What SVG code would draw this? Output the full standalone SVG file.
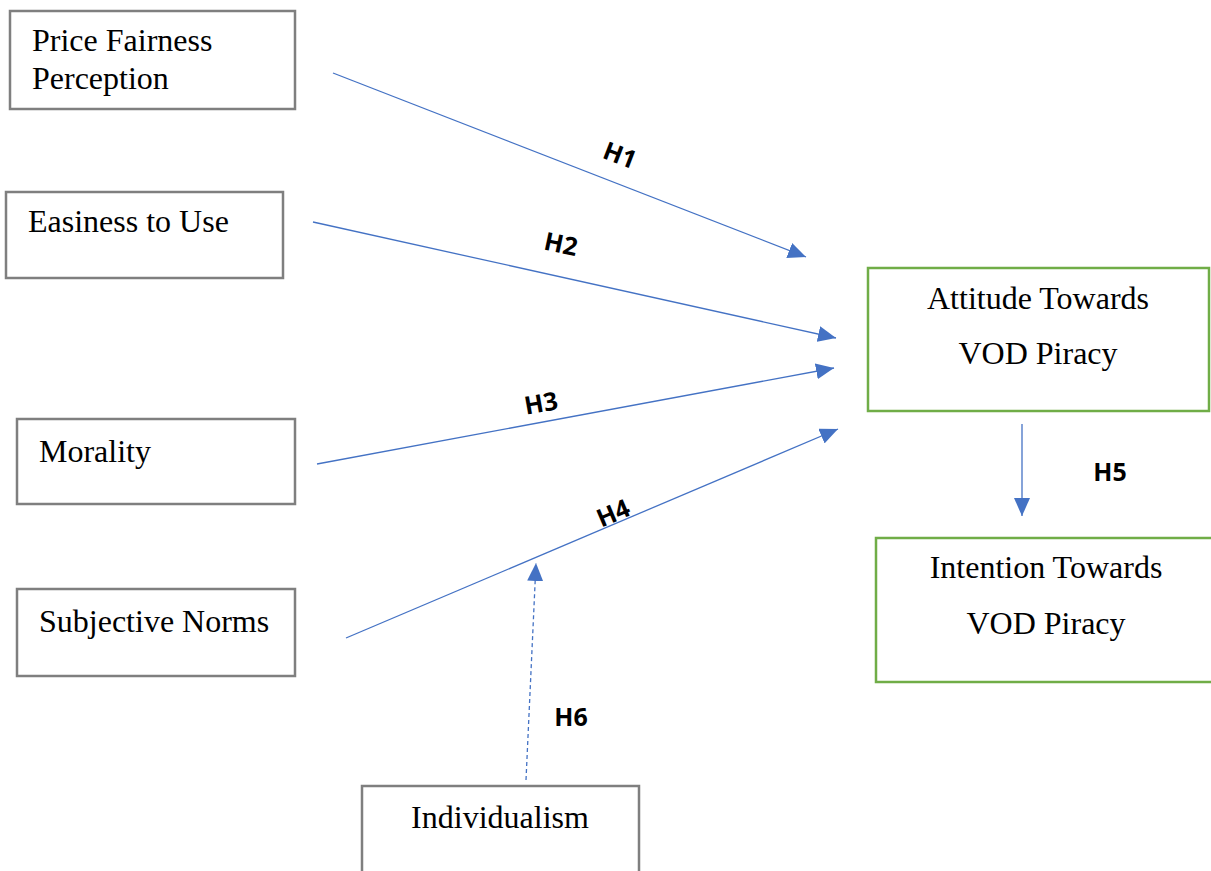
<svg xmlns="http://www.w3.org/2000/svg" width="1211" height="871" viewBox="0 0 1211 871">
<style>
.box{fill:#fff;stroke:#7f7f7f;stroke-width:2.5}
.gbox{fill:#fff;stroke:#70ad47;stroke-width:2.5}
.t{font-family:"Liberation Serif","Times New Roman",serif;font-size:32px;fill:#000}
.lbl{font-family:"Open Sans","Liberation Sans",sans-serif;font-weight:bold;font-size:25px;fill:#000}
.c{stroke:#4472c4;stroke-width:1.3;fill:none}
</style>
<defs>
<marker id="ah" markerUnits="userSpaceOnUse" markerWidth="20" markerHeight="16" refX="18" refY="8" orient="auto">
<path d="M0,0 L18,8 L0,16 Z" fill="#4472c4"/>
</marker>
</defs>
<rect width="1211" height="871" fill="#fff"/>
<g id="connectors">
<line class="c" x1="333" y1="73" x2="806" y2="257" marker-end="url(#ah)"/>
<line class="c" x1="313" y1="222" x2="836" y2="338" marker-end="url(#ah)"/>
<line class="c" x1="317" y1="464" x2="834" y2="368" marker-end="url(#ah)"/>
<line class="c" x1="346" y1="638" x2="838" y2="429" marker-end="url(#ah)"/>
<line class="c" x1="1022" y1="424" x2="1022" y2="516" marker-end="url(#ah)"/>
<line class="c" x1="526" y1="780" x2="536" y2="563" stroke-dasharray="4,3" marker-end="url(#ah)"/>
<text class="lbl" x="620" y="164" text-anchor="middle" transform="rotate(21 620 155)">H1</text>
<text class="lbl" x="561" y="253" text-anchor="middle" transform="rotate(12 561 244)">H2</text>
<text class="lbl" x="541" y="412" text-anchor="middle" transform="rotate(-10 541 403)">H3</text>
<text class="lbl" x="613" y="522" text-anchor="middle" transform="rotate(-23 613 513)">H4</text>
<text class="lbl" x="1110" y="481" text-anchor="middle">H5</text>
<text class="lbl" x="571" y="726" text-anchor="middle">H6</text>
</g>
<g id="price">
<rect class="box" x="10" y="11" width="285" height="98"/>
<text class="t" x="32" y="51">Price Fairness</text>
<text class="t" x="32" y="89">Perception</text>
</g>
<g id="easiness">
<rect class="box" x="6" y="192" width="277" height="86"/>
<text class="t" x="28" y="232">Easiness to Use</text>
</g>
<g id="morality">
<rect class="box" x="17" y="419" width="278" height="85"/>
<text class="t" x="39" y="462">Morality</text>
</g>
<g id="subjective">
<rect class="box" x="17" y="589" width="278" height="87"/>
<text class="t" x="39" y="632">Subjective Norms</text>
</g>
<g id="individualism">
<rect class="box" x="362" y="786" width="277" height="100"/>
<text class="t" x="500" y="828" text-anchor="middle">Individualism</text>
</g>
<g id="attitude">
<rect class="gbox" x="868" y="268" width="341" height="143"/>
<text class="t" x="1038" y="309" text-anchor="middle">Attitude Towards</text>
<text class="t" x="1038" y="364" text-anchor="middle">VOD Piracy</text>
</g>
<g id="intention">
<rect class="gbox" x="876" y="538" width="340" height="144"/>
<text class="t" x="1046" y="578" text-anchor="middle">Intention Towards</text>
<text class="t" x="1046" y="634" text-anchor="middle">VOD Piracy</text>
</g>
</svg>
